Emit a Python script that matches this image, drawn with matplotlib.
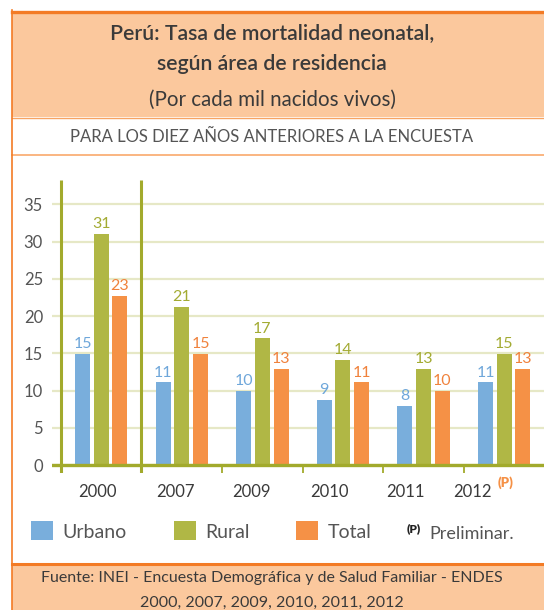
import numpy as np
import matplotlib
matplotlib.use('Agg')
import matplotlib.pyplot as plt
from matplotlib.patches import Rectangle
from matplotlib.lines import Line2D

plt.rcParams['font.family'] = ['Lato', 'DejaVu Sans']

years = ['2000', '2007', '2009', '2010', '2011', '2012']
urbano = [14.9, 11.1, 9.9, 8.7, 7.9, 11.1]
rural = [31.0, 21.2, 17.0, 14.1, 12.9, 14.9]
total = [22.7, 14.9, 12.9, 11.1, 9.9, 12.9]
series_names = ['Urbano', 'Rural', 'Total']

c_blue = '#79AEDC'
c_green = '#B0B745'
c_orange = '#F59146'
c_olive = '#A2AA2C'
c_grid = '#E6E8C6'
c_frame = '#F37B25'
c_peach = '#FBC89D'
c_text = '#3A3A3A'
c_gray = '#555555'

W, H = 544, 610
fig = plt.figure(figsize=(W / 100, H / 100), dpi=100)


def fx(x):
    return x / W


def fy(y):
    return 1 - y / H


# frame and bands (pixel layout of the original)
fig.add_artist(Rectangle((fx(12), fy(117)), fx(W - 12), 104 / H,
                         transform=fig.transFigure, facecolor=c_peach, edgecolor='none'))
fig.add_artist(Rectangle((fx(12), 0), fx(W - 12), 46 / H,
                         transform=fig.transFigure, facecolor=c_peach, edgecolor='none'))
fig.add_artist(Line2D([fx(12), 1], [fy(11.5), fy(11.5)], transform=fig.transFigure,
                      color=c_frame, lw=2.4))
fig.add_artist(Line2D([fx(12), 1], [fy(117.5), fy(117.5)], transform=fig.transFigure,
                      color='#F7A463', lw=1.0))
fig.add_artist(Line2D([fx(12), 1], [fy(155), fy(155)], transform=fig.transFigure,
                      color='#F9A96C', lw=1.2))
fig.add_artist(Line2D([fx(12), 1], [fy(563.5), fy(563.5)], transform=fig.transFigure,
                      color=c_frame, lw=2.2))
fig.add_artist(Line2D([fx(12), fx(12)], [0, fy(10)], transform=fig.transFigure,
                      color=c_frame, lw=1.2))

# titles
fig.text(0.5, fy(33), 'Perú: Tasa de mortalidad neonatal,', ha='center', va='center',
         fontsize=15.3, fontweight='semibold', color=c_text)
fig.text(0.5, fy(64), 'según área de residencia', ha='center', va='center',
         fontsize=15.3, fontweight='semibold', color=c_text)
fig.text(0.5, fy(100), '(Por cada mil nacidos vivos)', ha='center', va='center',
         fontsize=14.8, color=c_text)
fig.text(0.5, fy(137), 'PARA LOS DIEZ AÑOS ANTERIORES A LA ENCUESTA', ha='center',
         va='center', fontsize=12, color=c_gray)

# chart
ax = fig.add_axes([fx(52), fy(473.2), fx(492.5), (473.2 - 179.7) / H])
x = np.arange(len(years))
width = 0.186
step = 0.232
colors = [c_blue, c_green, c_orange]
label_colors = ['#6FA7DA', '#A3AB33', '#F0823C']
bars = []
for i, vals in enumerate([urbano, rural, total]):
    b = ax.bar(x + (i - 1) * step, vals, width, color=colors[i], label=series_names[i], zorder=2)
    ax.bar_label(b, labels=['%.0f' % v for v in vals], padding=2, fontsize=11.5,
                 color=label_colors[i])
    bars.append(b)

ax.set_xlim(-0.61, 5.5)
ax.set_ylim(-1.1, 38.3)
ax.set_yticks(range(0, 40, 5))
ax.yaxis.grid(True, color=c_grid, lw=1.6)
ax.set_axisbelow(True)
ax.axhline(0, color=c_olive, lw=2.4, zorder=3)
ax.vlines([-0.5, 0.5], -1.1, 38.3, color=c_olive, lw=2.2, zorder=3)
ax.vlines([1.5, 2.5, 3.5, 4.5], -1.1, 0, color=c_olive, lw=1.3, zorder=3)
for s in ax.spines.values():
    s.set_visible(False)

label_pos = [-0.05, 0.92, 1.87, 2.83, 3.77, 4.61]
ax.set_xticks(label_pos, years)
ax.tick_params(axis='x', length=0, pad=8, labelsize=12, labelcolor=c_text)
ax.tick_params(axis='y', length=0, pad=6.5, labelsize=12, labelcolor=c_gray)
ax.annotate('(P)', xy=(label_pos[5], 0), xycoords=('data', 'axes fraction'),
            xytext=(18, -7), textcoords='offset points', fontsize=9.5, fontweight='heavy',
            color=c_orange, ha='left', va='center')

# legend
fig.legend(handles=bars, labels=series_names, loc='center left',
           bbox_to_anchor=(fx(31), fy(531)), ncol=3, frameon=False, fontsize=14,
           handlelength=1.13, handleheight=1.13, handletextpad=0.5,
           columnspacing=2.4, borderpad=0, borderaxespad=0, labelcolor=c_gray)
fig.text(fx(407), fy(529), '(P)', ha='left', va='center', fontsize=8.5,
         fontweight='heavy', color='#222222')
fig.text(fx(429), fy(534), 'Preliminar.', ha='left', va='center', fontsize=13,
         color=c_gray)

# source
fig.text(0.5, fy(578), 'Fuente: INEI - Encuesta Demográfica y de Salud Familiar - ENDES',
         ha='center', va='center', fontsize=11.5, color=c_text)
fig.text(0.5, fy(603), '2000, 2007, 2009, 2010, 2011, 2012',
         ha='center', va='center', fontsize=11.5, color=c_text)

fig.savefig('out.png', dpi=100)
